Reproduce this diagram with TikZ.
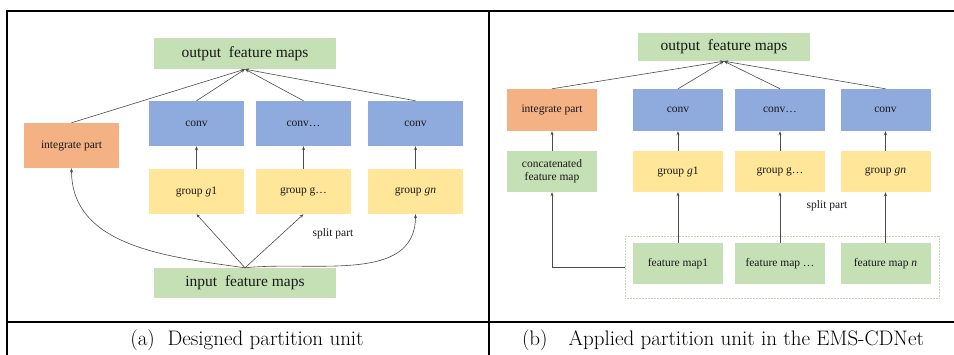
\documentclass[tikz,border=0pt]{standalone}
\usepackage{fontspec}
\usetikzlibrary{arrows.meta}
\newfontfamily\boxfont{Liberation Serif}
\definecolor{fgreen}{HTML}{C5E0B4}
\definecolor{forange}{HTML}{F4B183}
\definecolor{fblue}{HTML}{8FAADC}
\definecolor{fyellow}{HTML}{FFE699}

\begin{document}
\begin{tikzpicture}[x=1pt,y=-1pt]
\useasboundingbox (0,0) rectangle (954,355);
\tikzstyle{bx}=[inner sep=0pt, align=center, text=black!90, font=\boxfont\fontsize{11.5}{13}\selectfont]
\tikzstyle{big}=[bx, font=\boxfont\fontsize{15.5}{17}\selectfont]
\tikzstyle{ar}=[draw=black!70, line width=0.6pt, -{Stealth[length=4pt,width=3pt]}]
% table rules
\draw[line width=1.3pt] (7,355) -- (7,11) -- (954,11);
\draw[line width=1.3pt] (489,11) -- (489,355);
\draw[line width=1.3pt] (7,322) -- (954,322);

% (a)
\node[big, fill=fgreen, minimum width=182pt, minimum height=31pt](outA) at (245,53.5){output\ \ feature maps};
\node[bx, fill=forange, minimum width=95pt, minimum height=45pt](intA) at (71.5,145.5){integrate part};
\node[bx, fill=fblue, minimum width=95pt, minimum height=45pt](cA1) at (196.5,123.5){conv};
\node[bx, fill=fblue, minimum width=95pt, minimum height=45pt](cA2) at (303.5,123.5){conv…};
\node[bx, fill=fblue, minimum width=95pt, minimum height=45pt](cA3) at (415.5,123.5){conv};
\node[bx, fill=fyellow, minimum width=95pt, minimum height=45pt](gA1) at (196.5,191.5){group \textit{g}1};
\node[bx, fill=fyellow, minimum width=95pt, minimum height=45pt](gA2) at (303.5,191.5){group g…};
\node[bx, fill=fyellow, minimum width=95pt, minimum height=45pt](gA3) at (415.5,191.5){group \textit{gn}};
\node[big, fill=fgreen, minimum width=182pt, minimum height=30pt](inA) at (245,283){input\ \ feature maps};
\node[bx](spA) at (333,234){split part};
\foreach \i in {intA,cA1,cA2,cA3}{\draw[ar] (\i.north) -- (outA.south);}
\foreach \i/\j in {gA1/cA1,gA2/cA2,gA3/cA3}{\draw[ar] (\i) -- (\j);}
\foreach \j in {gA1,gA2}{\draw[ar] (inA.north) -- (\j.south);}
\draw[ar] (inA.north) to[out=172,in=-90] (intA.south);
\draw[ar] (inA.north) to[out=6,in=-90] (gA3.south);
\node[font=\fontsize{21}{24}\selectfont](capA) at (247,340){(a)\ \ Designed partition unit};

% (b)
\node[big, fill=fgreen, minimum width=172pt, minimum height=28pt](outB) at (724,47){output\ \ feature maps};
\node[bx, fill=forange, minimum width=90pt, minimum height=42pt](intB) at (552,110){integrate part};
\node[bx, fill=fblue, minimum width=90pt, minimum height=42pt](cB1) at (678,110){conv};
\node[bx, fill=fblue, minimum width=90pt, minimum height=42pt](cB2) at (780,110){conv…};
\node[bx, fill=fblue, minimum width=90pt, minimum height=42pt](cB3) at (885.5,110){conv};
\node[bx, fill=fgreen, minimum width=90pt, minimum height=41pt](catB) at (552,171.5){concatenated\\feature map};
\node[bx, fill=fyellow, minimum width=90pt, minimum height=41pt](gB1) at (678,171.5){group \textit{g}1};
\node[bx, fill=fyellow, minimum width=90pt, minimum height=41pt](gB2) at (780,171.5){group g…};
\node[bx, fill=fyellow, minimum width=90pt, minimum height=41pt](gB3) at (885.5,171.5){group \textit{gn}};
\node[draw=fgreen!80!black!60, densely dotted, line width=0.5pt, minimum width=314pt, minimum height=62pt](fmbox) at (782,267){};
\node[bx, fill=fgreen, minimum width=90pt, minimum height=41pt](fmB1) at (678,263.5){feature map1};
\node[bx, fill=fgreen, minimum width=90pt, minimum height=41pt](fmB2) at (780,263.5){feature map …};
\node[bx, fill=fgreen, minimum width=90pt, minimum height=41pt](fmB3) at (885.5,263.5){feature map \textit{n}};
\node[bx](spB) at (827,206){split part};
\foreach \i in {intB,cB1,cB2,cB3}{\draw[ar] (\i.north) -- (outB.south);}
\foreach \i/\j in {catB/intB,gB1/cB1,gB2/cB2,gB3/cB3,fmB1/gB1,fmB2/gB2,fmB3/gB3}{\draw[ar] (\i) -- (\j);}
\draw[ar] (fmbox.west) -| (catB.south);
\node[font=\fontsize{21}{24}\selectfont](capB) at (723,340){(b)\quad Applied partition unit in the EMS-CDNet};
\end{tikzpicture}
\end{document}
